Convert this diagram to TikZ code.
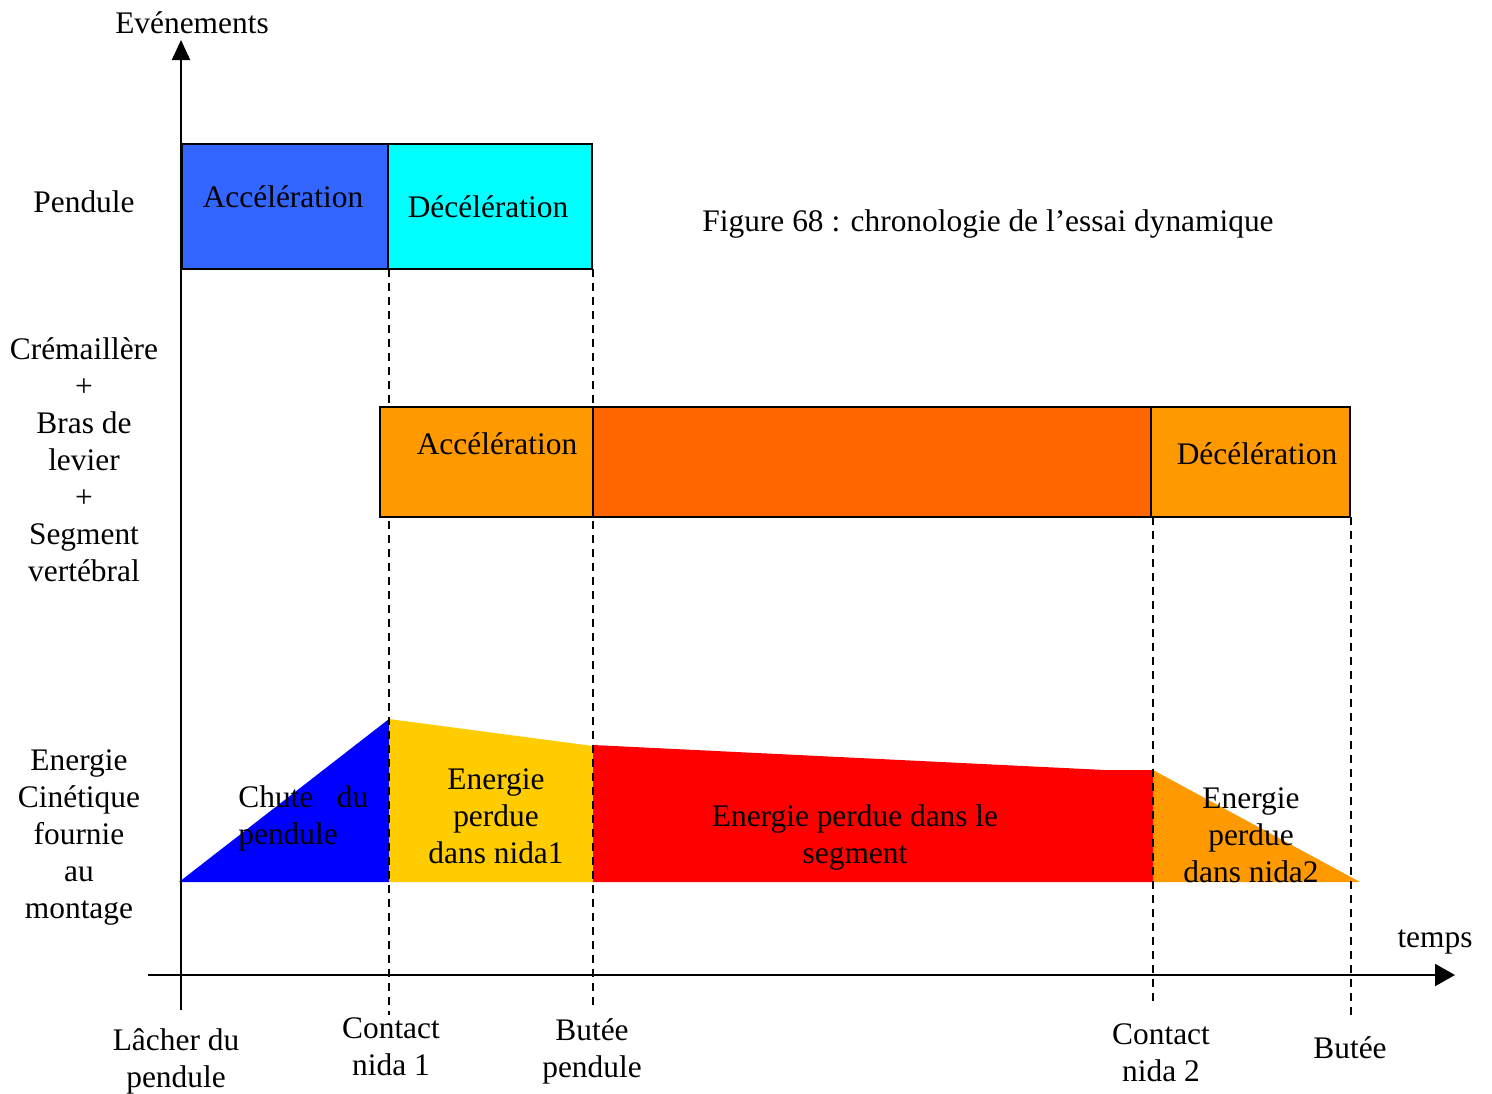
\documentclass[tikz,border=0pt]{standalone}
\usepackage{fontspec}
\setmainfont{Liberation Serif}
\usetikzlibrary{arrows.meta}
\definecolor{accblue}{HTML}{3366FF}
\definecolor{deccyan}{HTML}{00FFFF}
\definecolor{segorange}{HTML}{FF9900}
\definecolor{segdark}{HTML}{FF6600}
\definecolor{chuteblue}{HTML}{0000FF}
\definecolor{nidayellow}{HTML}{FFCC00}
\definecolor{segred}{HTML}{FF0000}
\tikzset{
  lbl/.style={inner sep=0pt, align=center, font=\fontsize{15.7}{18.5}\selectfont},
  phasebox/.style={draw=black, line width=1pt},
  axisline/.style={line width=1pt, -{Triangle[length=10pt,width=9pt]}},
  instant/.style={line width=0.9pt, dash pattern=on 4pt off 3pt}
}
\begin{document}
\begin{tikzpicture}[x=0.5pt, y=-0.5pt]
  \useasboundingbox (0,0) rectangle (1492,1093);
  % energy curve
  \fill[chuteblue] (179,882) -- (389,719) -- (389,882) -- cycle;
  \fill[nidayellow] (389,719) -- (593,746) -- (593,882) -- (389,882) -- cycle;
  \fill[segred] (593,745) -- (1105,770) -- (1153,770) -- (1153,882) -- (593,882) -- cycle;
  \fill[segorange] (1153,770) -- (1360,882) -- (1153,882) -- cycle;
  % instants
  \coordinate (c1top) at (389,269);  \coordinate (c1bot) at (389,1015);
  \coordinate (b1top) at (593,269);  \coordinate (b1bot) at (593,1005);
  \coordinate (c2top) at (1153,517); \coordinate (c2bot) at (1153,1003);
  \coordinate (b2top) at (1351,517); \coordinate (b2bot) at (1351,1018);
  \draw[instant] (c1top) -- (c1bot);
  \draw[instant] (b1top) -- (b1bot);
  \draw[instant] (c2top) -- (c2bot);
  \draw[instant] (b2top) -- (b2bot);
  % pendulum phases
  \draw[phasebox, fill=accblue] (182,144) rectangle (388,269);
  \draw[phasebox, fill=deccyan] (388,144) rectangle (592,269);
  % rack phases
  \draw[phasebox, fill=segorange] (380,407) rectangle (593,517);
  \draw[phasebox, fill=segdark] (593,407) rectangle (1151,517);
  \draw[phasebox, fill=segorange] (1151,407) rectangle (1350,517);
  % axes
  \coordinate (yfoot) at (181,1010);
  \coordinate (ytip) at (181,40);
  \coordinate (xfoot) at (148,975);
  \coordinate (xtip) at (1455,975);
  \draw[axisline] (yfoot) -- (ytip);
  \draw[axisline, -{Triangle[length=10pt,width=11pt]}] (xfoot) -- (xtip);
  % texts
  \node[lbl] (evts) at (192,23) {Evénements};
  \node[lbl] (temps) at (1435,942) {temps};
  \node[lbl] (fig) at (988,224) {Figure 68 : chronologie de l’essai dynamique};
  \node[lbl] (pendule) at (84,202) {Pendule};
  \node[lbl] (rack) at (84,460) {Crémaillère\\+\\Bras de\\levier\\+\\Segment\\vertébral};
  \node[lbl] (energie) at (79,837) {Energie\\Cinétique\\fournie\\au\\montage};
  \node[lbl] (pacc) at (283,197) {Accélération};
  \node[lbl] (pdec) at (488,207) {Décélération};
  \node[lbl] (racc) at (497,444) {Accélération};
  \node[lbl] (rdec) at (1257,454) {Décélération};
  \node[lbl, align=left, anchor=west] (chute) at (238,818) {Chute\hspace{0.75em}du\\pendule};
  \node[lbl] (nida1) at (496,816) {Energie\\perdue\\dans nida1};
  \node[lbl] (seg) at (855,837) {Energie perdue dans le\\segment};
  \node[lbl] (nida2) at (1251,835) {Energie\\perdue\\dans nida2};
  \node[lbl] (lacher) at (176,1061) {Lâcher du\\pendule};
  \node[lbl] (cont1) at (391,1047) {Contact\\nida 1};
  \node[lbl] (but1) at (592,1051) {Butée\\pendule};
  \node[lbl] (cont2) at (1161,1053) {Contact\\nida 2};
  \node[lbl] (but2) at (1350,1048) {Butée};
\end{tikzpicture}
\end{document}
